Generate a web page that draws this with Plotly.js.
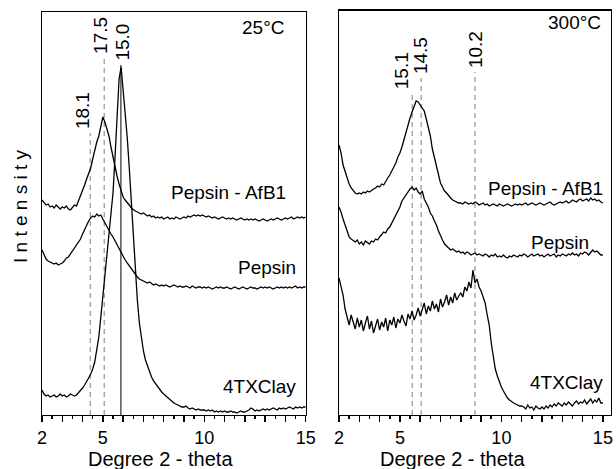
<!DOCTYPE html>
<html><head><meta charset="utf-8">
<script src="https://cdn.plot.ly/plotly-3.0.1.min.js"></script>
<style>html,body{margin:0;padding:0;background:#fff;}#chart{width:616px;height:469px;}</style>
</head><body><div id="chart"></div>
<script>
// 2-theta grid (degrees)
const twoTheta = [
2.0,2.1,2.2,2.3,2.4,2.5,2.6,2.7,2.8,2.9,
3.0,3.1,3.2,3.3,3.4,3.5,3.6,3.7,3.8,3.9,
4.0,4.1,4.2,4.3,4.4,4.5,4.6,4.7,4.8,4.9,
5.0,5.1,5.2,5.3,5.4,5.5,5.6,5.7,5.8,5.9,
6.0,6.1,6.2,6.3,6.4,6.5,6.6,6.7,6.8,6.9,
7.0,7.1,7.2,7.3,7.4,7.5,7.6,7.7,7.8,7.9,
8.0,8.1,8.2,8.3,8.4,8.5,8.6,8.7,8.8,8.9,
9.0,9.1,9.2,9.3,9.4,9.5,9.6,9.7,9.8,9.9,
10.0,10.1,10.2,10.3,10.4,10.5,10.6,10.7,10.8,10.9,
11.0,11.1,11.2,11.3,11.4,11.5,11.6,11.7,11.8,11.9,
12.0,12.1,12.2,12.3,12.4,12.5,12.6,12.7,12.8,12.9,
13.0,13.1,13.2,13.3,13.4,13.5,13.6,13.7,13.8,13.9,
14.0,14.1,14.2,14.3,14.4,14.5,14.6,14.7,14.8,14.9,
15.0];

// 25 °C panel (intensity, arbitrary offset units)
const left_pepsinAfB1 = [
215,212,210,211,208,209,207,210,208,206,
208,207,209,206,205,208,210,209,214,220,
224,230,236,241,247,256,266,273,279,287,
298,293,286,279,268,257,247,239,231,224,
218,215,213,210,207,205,204,203,202,201,
202,200,199,200,198,199,197,198,197,198,
196,197,198,196,197,196,198,197,196,197,
198,197,199,198,199,200,199,200,199,200,
199,198,199,198,197,198,197,196,197,198,
197,196,197,196,197,196,195,196,197,196,
195,196,195,196,195,196,195,194,195,196,
195,194,195,196,195,196,197,196,195,196,
197,196,197,198,196,197,198,197,198,197,
198];
const left_pepsin = [
165,160,156,154,153,152,151,152,150,151,
152,154,157,158,161,163,166,170,173,176,
181,186,191,194,197,199,198,201,199,200,
196,192,188,184,181,178,174,170,166,162,
158,155,152,149,146,143,141,138,136,135,
134,133,132,133,131,130,131,130,129,130,
129,130,129,128,129,130,129,128,129,128,
128,129,128,127,129,128,127,128,128,127,
128,127,128,127,126,127,128,127,128,127,
127,128,127,126,127,128,127,126,127,128,
127,126,127,128,127,127,126,127,128,127,
128,127,128,127,126,127,128,127,128,127,
128,127,128,127,128,129,127,128,127,128,
128];
const left_4TXClay = [
25,21,19,20,18,19,20,18,19,21,
19,20,18,19,21,20,19,20,22,24,
27,30,33,37,41,46,53,66,78,98,
118,138,162,177,198,222,258,298,336,348,
326,302,278,248,212,178,145,115,92,75,
64,55,49,44,38,34,31,28,26,23,
21,19,17,15,13,12,11,10,9,8,
8,9,7,6,7,6,5,6,5,5,
5,4,5,4,5,3,4,3,4,3,
4,3,3,4,3,3,2,3,4,3,
3,4,5,7,6,4,5,4,5,6,
5,6,5,6,7,6,5,7,6,7,
6,7,8,7,6,8,7,8,7,8,
8];

// 300 °C panel
const right_pepsinAfB1 = [
270,262,250,243,236,231,227,224,222,221,
222,221,223,222,224,223,225,226,227,229,
228,231,230,234,237,240,244,247,252,258,
262,268,276,284,290,297,303,309,314,313,
310,306,304,296,288,279,266,257,248,240,
232,228,224,222,219,217,215,214,213,212,
212,211,213,212,211,212,211,213,212,210,
211,212,210,211,209,210,211,210,209,211,
210,209,210,211,210,209,210,211,210,211,
210,211,212,210,211,212,211,210,211,212,
211,210,211,212,213,211,210,211,212,213,
212,213,214,212,213,215,214,213,215,216,
214,215,216,214,217,215,216,214,215,213,
212];
const right_pepsin = [
208,203,196,190,182,178,176,174,173,175,
171,173,170,174,172,171,174,173,176,175,
178,180,183,182,186,188,192,195,200,203,
208,214,217,221,223,226,228,225,227,223,
221,224,216,212,208,202,199,194,190,184,
179,175,171,169,167,165,166,164,163,164,
162,163,161,163,162,160,161,162,160,161,
160,159,161,160,158,160,159,161,158,159,
158,160,158,157,159,158,160,159,158,160,
159,161,160,158,160,161,159,160,161,159,
160,158,160,161,159,160,161,158,160,159,
161,160,159,161,160,162,160,161,159,162,
161,163,162,160,163,165,163,164,162,160,
160];
const right_4TXClay = [
137,128,120,106,98,90,100,93,86,97,
88,95,84,92,99,86,94,82,90,96,
85,93,88,97,84,95,90,98,87,96,
92,100,94,89,101,96,104,95,100,107,
99,106,112,101,109,104,114,106,111,103,
116,108,113,120,110,118,112,122,115,119,
122,118,128,124,133,127,145,132,136,128,
124,118,112,100,90,72,57,46,39,33,
28,24,20,17,15,13,12,11,10,9,
9,8,6,10,7,8,5,9,7,6,
8,6,9,7,10,8,11,9,12,10,
9,12,10,13,11,9,12,14,11,13,
12,15,11,14,16,12,15,13,17,12,
12];

// d-spacing reference lines (Å labels, 2-theta position, top of line)
const leftRefLabels = ["18.1", "17.5", "15.0"];
const leftRefPos = [4.38, 5.07, 5.89];
const leftRefTop = [282, 357, 350];
const leftRefSolid = [false, false, true];
const rightRefLabels = ["15.1", "14.5", "10.2"];
const rightRefPos = [5.61, 6.05, 8.70];
const rightRefTop = [322, 337, 343];

const seriesNames = ["Pepsin - AfB1", "Pepsin", "4TXClay"];
const panelTitles = ["25°C", "300°C"];
const tickVals = [2,3,4,5,6,7,8,9,10,11,12,13,14,15];
const tickText = ["2","","","5","","","","","10","","","","","15"];

const FONT = "Liberation Sans, Arial, sans-serif";
const traces = [];
function curve(y, xa, ya){
  traces.push({x: twoTheta, y: y, xaxis: xa, yaxis: ya, type: "scatter", mode: "lines",
    line: {color: "#000", width: 1.3}, hoverinfo: "skip", showlegend: false});
}
function refLine(pos, top, xa, ya, solid){
  traces.push({x: [pos, pos], y: [0, top], xaxis: xa, yaxis: ya, type: "scatter", mode: "lines",
    line: solid ? {color: "#000", width: 1} : {color: "#a8a8a8", width: 1.5, dash: "5px,4px"},
    hoverinfo: "skip", showlegend: false});
}
for (let i = 0; i < leftRefPos.length; i++) refLine(leftRefPos[i], leftRefTop[i], "x", "y", leftRefSolid[i]);
for (let i = 0; i < rightRefPos.length; i++) refLine(rightRefPos[i], rightRefTop[i], "x2", "y2", false);
curve(left_pepsinAfB1, "x", "y");
curve(left_pepsin, "x", "y");
curve(left_4TXClay, "x", "y");
curve(right_pepsinAfB1, "x2", "y2");
curve(right_pepsin, "x2", "y2");
curve(right_4TXClay, "x2", "y2");

const ann = [];
function txt(text, x, y, xa, ya, xanchor, yanchor, angle, size){
  ann.push({text: text, x: x, y: y, xref: xa, yref: ya, xanchor: xanchor, yanchor: yanchor,
    textangle: angle || 0, showarrow: false, font: {family: FONT, size: size || 19, color: "#000"}, borderpad: 0});
}
// reference line labels (placed beside the line tops)
const leftLabelX = [4.0, 4.88, 5.95];
const rightLabelX = [5.09, 6.02, 8.73];
for (let i = 0; i < leftRefLabels.length; i++) txt(leftRefLabels[i], leftLabelX[i], leftRefTop[i] + 3, "x", "y", "center", "bottom", -90);
for (let i = 0; i < rightRefLabels.length; i++) txt(rightRefLabels[i], rightLabelX[i], rightRefTop[i] + 3, "x2", "y2", "center", "bottom", -90);
// series labels
txt(seriesNames[0], 14.09, 223, "x", "y", "right", "middle");
txt(seriesNames[1], 14.58, 147.5, "x", "y", "right", "middle");
txt(seriesNames[2], 14.58, 29, "x", "y", "right", "middle");
txt(seriesNames[0], 15.04, 226, "x2", "y2", "right", "middle");
txt(seriesNames[1], 14.35, 172.5, "x2", "y2", "right", "middle");
txt(seriesNames[2], 15.04, 32.5, "x2", "y2", "right", "middle");
// panel temperature labels
txt(panelTitles[0], 13.99, 387.5, "x", "y", "right", "middle");
txt(panelTitles[1], 14.94, 392, "x2", "y2", "right", "middle");
// axis titles
txt("Degree 2 - theta", 160.5/616, (469-459)/469, "paper", "paper", "center", "middle", 0, 20);
txt("Degree 2 - theta", 452/616, (469-459)/469, "paper", "paper", "center", "middle", 0, 20);
txt("I n t e n s i t y", 20/616, (469-207)/469, "paper", "paper", "center", "middle", -90);

const xCommon = {
  showline: true, linecolor: "#000", linewidth: 1.3, mirror: true, showgrid: false, zeroline: false,
  tickmode: "array", tickvals: tickVals, ticktext: tickText, ticks: "outside", ticklen: 6, tickwidth: 1.5,
  tickcolor: "#000", tickfont: {family: FONT, size: 18, color: "#000"},
  minor: {tickmode: "linear", tick0: 2, dtick: 0.5, ticks: "outside", ticklen: 3, tickwidth: 1.5, tickcolor: "#000", showgrid: false},
  fixedrange: true
};
const yCommon = {showline: true, linecolor: "#000", linewidth: 1.3, mirror: true, showgrid: false,
  zeroline: false, showticklabels: false, ticks: "", fixedrange: true};

const layout = {
  width: 616, height: 469, margin: {l: 0, r: 0, t: 0, b: 0},
  paper_bgcolor: "#fff", plot_bgcolor: "#fff", showlegend: false,
  font: {family: FONT, size: 19, color: "#000"},
  xaxis: Object.assign({}, xCommon, {domain: [42/616, 305.7/616], range: [2, 15], anchor: "y"}),
  xaxis2: Object.assign({}, xCommon, {domain: [339/616, 611/616], range: [2, 15.4], anchor: "y2"}),
  yaxis: Object.assign({}, yCommon, {domain: [54/469, 457/469], range: [0, 403], anchor: "x"}),
  yaxis2: Object.assign({}, yCommon, {domain: [54/469, 458.3/469], range: [0, 404.3], anchor: "x2"}),
  annotations: ann
};
Plotly.newPlot("chart", traces, layout, {staticPlot: true, displayModeBar: false});
</script></body></html>
